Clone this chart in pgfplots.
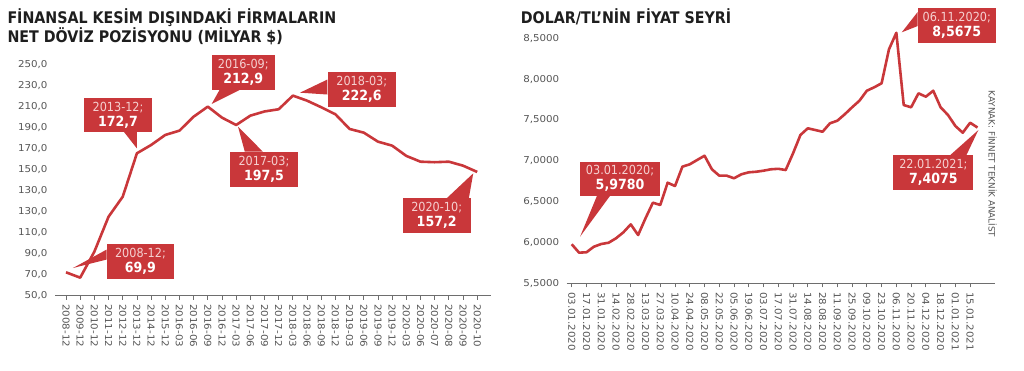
\documentclass[border=0pt]{standalone}
\usepackage{fontspec}
\setmainfont{DejaVu Sans}
\newfontfamily\tickfont{DejaVu Sans}[FakeStretch=1.08]
\newfontfamily\titlefont{DejaVu Sans}[FakeStretch=0.89]
\newfontfamily\callfont{DejaVu Sans}[FakeStretch=0.9]
\usepackage{pgfplots}
\pgfplotsset{compat=1.18}
\definecolor{cred}{RGB}{201,55,58}
\definecolor{cpink}{RGB}{245,208,208}
\definecolor{axgray}{RGB}{110,110,110}
\definecolor{lblgray}{RGB}{85,85,85}
\definecolor{ttl}{RGB}{30,30,30}

\pgfplotstableread{
k c
0 72.3
1 67.2
2 92.0
3 125.3
4 144.4
5 185.8
6 193.7
7 203.3
8 207.4
9 220.7
10 230.3
11 219.8
12 212.8
13 221.7
14 225.7
15 227.8
16 240.8
17 236.0
18 229.7
19 223.0
20 209.0
21 205.5
22 196.9
23 193.1
24 183.3
25 177.8
26 177.3
27 177.8
28 174.0
29 168.0
}\leftdata

\pgfplotstableread{
w v
0 5.978
1 5.875
2 5.880
3 5.948
4 5.981
5 5.997
6 6.051
7 6.124
8 6.222
9 6.091
10 6.296
11 6.487
12 6.459
13 6.732
14 6.691
15 6.928
16 6.957
17 7.010
18 7.062
19 6.896
20 6.818
21 6.818
22 6.786
23 6.835
24 6.859
25 6.866
26 6.879
27 6.896
28 6.902
29 6.887
30 7.092
31 7.316
32 7.398
33 7.377
34 7.356
35 7.459
36 7.491
37 7.569
38 7.655
39 7.736
40 7.858
41 7.900
42 7.949
43 8.365
44 8.5675
45 7.683
46 7.655
47 7.826
48 7.785
49 7.858
50 7.655
51 7.561
52 7.426
53 7.344
54 7.466
55 7.4075
}\rightdata

\pgfplotsset{
 mystyle/.style={
  scale only axis, clip=false,
  axis lines*=left,
  x axis line style={draw=axgray, line width=1.1pt, -},
  y axis line style={draw=none},
  tick align=outside,
  major tick length=4pt,
  xtick style={draw=axgray, line width=0.8pt},
  ytick style={draw=none},
  ticklabel style={font=\tickfont\fontsize{9.5}{10}\selectfont, text=lblgray},
  xticklabel style={rotate=-90, anchor=west, inner xsep=4.5pt},
 },
}
\tikzset{
 box/.style={fill=cred, inner sep=0pt, minimum height=35pt, align=center,
   font=\callfont\fontsize{12.5}{15}\selectfont, text=white},
}
\newcommand{\bnum}[1]{{\bfseries\fontsize{14}{15}\selectfont #1}}

\begin{document}
\begin{tikzpicture}
\useasboundingbox (0,0) rectangle (1024pt,370pt);

\begin{axis}[mystyle, at={(55pt,74.3pt)}, anchor=south west,
  width=436.4pt, height=230.7pt,
  xmin=-0.776, xmax=30.0, ymin=50, ymax=270,
  xtick={0,...,29},
  xticklabels={2008-12,2009-12,2010-12,2011-12,2012-12,2013-12,2014-12,2015-12,2016-03,2016-06,2016-09,2016-12,2017-03,2017-06,2017-09,2017-12,2018-03,2018-06,2018-09,2018-12,2019-03,2019-06,2019-09,2019-12,2020-03,2020-06,2020-07,2020-08,2020-09,2020-10},
  ytick={50,70,...,270},
  yticklabels={{50,0},{70,0},{90,0},{110,0},{130,0},{130,0},{150,0},{170,0},{190,0},{210,0},{230,0},{250,0}},
]
\addplot[cred, line width=2.6pt, line join=round] table[x=k, y=c] {\leftdata};

\node[box, minimum width=67pt] (b1) at (axis cs:5.25,82.6) {{\color{cpink}2008-12;}\\\bnum{69,9}};
\fill[cred] ([yshift=12pt]b1.west) -- (axis cs:0.49,76.4) -- ([yshift=2pt]b1.west) -- cycle;

\node[box, minimum width=67.4pt, minimum height=33.4pt] (b2) at (axis cs:3.67,222.3) {{\color{cpink}2013-12;}\\\bnum{172,7}};
\fill[cred] ([xshift=-28pt]b2.south east) -- (axis cs:4.99,190.6) -- ([xshift=-15pt]b2.south east) -- cycle;

\node[box, minimum width=63.3pt] (b3) at (axis cs:12.5,262.9) {{\color{cpink}2016-09;}\\\bnum{212,9}};
\fill[cred] ([xshift=8pt]b3.south west) -- (axis cs:10.27,232.8) -- ([xshift=28pt]b3.south west) -- cycle;

\node[box, minimum width=68pt] (b4) at (axis cs:13.96,170.6) {{\color{cpink}2017-03;}\\\bnum{197,5}};
\fill[cred] ([xshift=15pt]b4.north west) -- (axis cs:12.13,211.2) -- ([xshift=33pt]b4.north west) -- cycle;

\node[box, minimum width=68.3pt] (b5) at (axis cs:20.86,246.9) {{\color{cpink}2018-03;}\\\bnum{222,6}};
\fill[cred] ([yshift=-8pt]b5.north west) -- (axis cs:16.5,243.6) -- ([yshift=-23pt]b5.north west) -- cycle;

\node[box, minimum width=68pt] (b6) at (axis cs:26.14,126.2) {{\color{cpink}2020-10;}\\\bnum{157,2}};
\fill[cred] ([xshift=-24pt]b6.north east) -- (axis cs:28.72,166.7) -- ([xshift=-2pt]b6.north east) -- cycle;
\end{axis}

\begin{axis}[mystyle, at={(566.7pt,86.7pt)}, anchor=south west,
  width=428.5pt, height=245pt,
  xmin=-0.68, xmax=57.4, ymin=5.5, ymax=8.5,
  xtick={0,2,...,54},
  xticklabels={03.01.2020,17.01.2020,31.01.2020,14.02.2020,28.02.2020,13.03.2020,27.03.2020,10.04.2020,24.04.2020,08.05.2020,22.05.2020,05.06.2020,19.06.2020,03.07.2020,17.07.2020,31.07.2020,14.08.2020,28.08.2020,11.09.2020,25.09.2020,09.10.2020,23.10.2020,06.11.2020,20.11.2020,04.12.2020,18.12.2020,01.01.2021,15.01.2021},
  ytick={5.5,6.0,6.5,7.0,7.5,8.0,8.5},
  yticklabels={{5,5000},{6,0000},{6,5000},{7,0000},{7,5000},{8,0000},{8,5000}},
]
\addplot[cred, line width=2.6pt, line join=round] table[x=w, y=v] {\rightdata};

\node[box, minimum width=80pt, minimum height=34.3pt] (r1) at (axis cs:6.55,6.780) {{\color{cpink}03.01.2020;}\\\bnum{5,9780}};
\fill[cred] ([xshift=17pt]r1.south west) -- (axis cs:1.13,6.071) -- ([xshift=30pt]r1.south west) -- cycle;

\node[box, minimum width=78pt] (r2) at (axis cs:52.19,8.653) {{\color{cpink}06.11.2020;}\\\bnum{8,5675}};
\fill[cred] ([yshift=-4pt]r2.north west) -- (axis cs:44.73,8.573) -- ([yshift=-18pt]r2.north west) -- cycle;

\node[box, minimum width=80pt] (r3) at (axis cs:49.02,6.857) {{\color{cpink}22.01.2021;}\\\bnum{7,4075}};
\fill[cred] ([xshift=-23pt]r3.north east) -- (axis cs:55.12,7.377) -- ([xshift=-7pt]r3.north east) -- cycle;
\end{axis}

\node[anchor=base west, inner sep=0pt, font=\titlefont\bfseries\fontsize{16}{19}\selectfont, text=ttl] at (7.3pt,346.7pt) {FİNANSAL KESİM DIŞINDAKİ FİRMALARIN};
\node[anchor=base west, inner sep=0pt, font=\titlefont\bfseries\fontsize{16}{19}\selectfont, text=ttl] at (7.3pt,327.3pt) {NET DÖVİZ POZİSYONU (MİLYAR \$)};
\node[anchor=base west, inner sep=0pt, font=\titlefont\bfseries\fontsize{16}{19}\selectfont, text=ttl] at (520.7pt,346pt) {DOLAR/TL’NİN FİYAT SEYRİ};
\node[rotate=-90, inner sep=0pt, font=\fontsize{8.8}{10}\selectfont, text=lblgray] at (992.5pt,206pt) {KAYNAK: FİNNET TEKNİK ANALİST};
\end{tikzpicture}
\end{document}
